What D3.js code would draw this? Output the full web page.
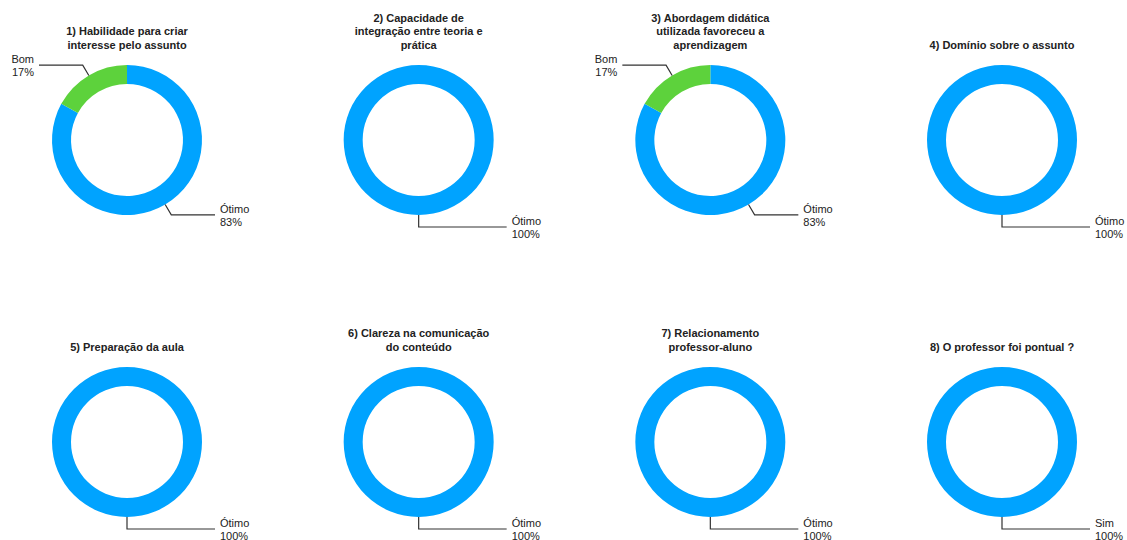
<!DOCTYPE html>
<html>
<head>
<meta charset="utf-8">
<script src="https://cdn.jsdelivr.net/npm/d3@7"></script>
<style>
	body { margin: 0; background: #fff; }
	svg { display: block; font-family: "Liberation Sans", Arial, sans-serif; }
</style>
</head>
<body>
<svg id="donuts" width="1127" height="540"></svg>
<script>
// question titles, already broken into lines like the original
const questions = [
	["1) Habilidade para criar", "interesse pelo assunto"],
	["2) Capacidade de", "integração entre teoria e", "prática"],
	["3) Abordagem didática", "utilizada favoreceu a", "aprendizagem"],
	["4) Domínio sobre o assunto"],
	["5) Preparação da aula"],
	["6) Clareza na comunicação", "do conteúdo"],
	["7) Relacionamento", "professor-aluno"],
	["8) O professor foi pontual ?"]
];
// answer names for each question
const answers = [
	["Ótimo", "Bom"],
	["Ótimo"],
	["Ótimo", "Bom"],
	["Ótimo"],
	["Ótimo"],
	["Ótimo"],
	["Ótimo"],
	["Sim"]
];
// percentage of each answer
const percents = [
	[83, 17],
	[100],
	[83, 17],
	[100],
	[100],
	[100],
	[100],
	[100]
];
const colors = ["#00a3ff", "#5dd23c"];

const svg = d3.select("#donuts");
const outer = 75, inner = 56;
const elbowR = 87;   // where the leader line bends
const lineX = 88;    // end of the horizontal leader line from the centre
const textX = 93;

// column and row positions of the donut centres
const col = d3.scaleLinear().domain([0, 3]).range([127, 1002]);
const row = d3.scaleLinear().domain([0, 1]).range([140, 442]);

const pie = d3.pie().sort(null).value(d => d);
const arc = d3.arc().innerRadius(inner).outerRadius(outer);
const pt = (r, a) => [r * Math.sin(a), -r * Math.cos(a)];

questions.forEach((title, q) => {
	const g = svg.append("g")
		.attr("transform", `translate(${col(q % 4)},${row(Math.floor(q / 4))})`);

	// title lines, bottom aligned above the ring
	g.append("g").selectAll("text").data(title).enter().append("text")
		.attr("x", 0)
		.attr("y", (t, i) => -95 - (title.length - 1 - i) * 13.5)
		.attr("dy", "0.35em")
		.attr("text-anchor", "middle")
		.attr("font-size", 11)
		.attr("font-weight", "bold")
		.attr("fill", "#222")
		.text(t => t);

	const slices = pie(percents[q]);
	g.selectAll("path.slice").data(slices).enter().append("path")
		.attr("class", "slice")
		.attr("fill", (d, i) => colors[i])
		.attr("d", arc);

	// leader lines and labels
	slices.forEach((d, i) => {
		const mid = (d.startAngle + d.endAngle) / 2;
		const right = Math.sin(mid) >= -1e-6;
		const p0 = pt(outer, mid);
		const p1 = pt(elbowR, mid);
		const xEnd = right ? lineX : -lineX;
		g.append("polyline")
			.attr("points", [p0, p1, [xEnd, p1[1]]].map(p => p.join(",")).join(" "))
			.attr("fill", "none")
			.attr("stroke", "#333")
			.attr("stroke-width", 1.2);
		const lbl = g.append("text")
			.attr("text-anchor", right ? "start" : "end")
			.attr("font-size", 11)
			.attr("fill", "#222");
		lbl.append("tspan").attr("x", right ? textX : -textX).attr("y", p1[1] - 6).attr("dy", "0.35em").text(answers[q][i]);
		lbl.append("tspan").attr("x", right ? textX : -textX).attr("y", p1[1] + 7).attr("dy", "0.35em").text(percents[q][i] + "%");
	});
});
</script>
</body>
</html>
